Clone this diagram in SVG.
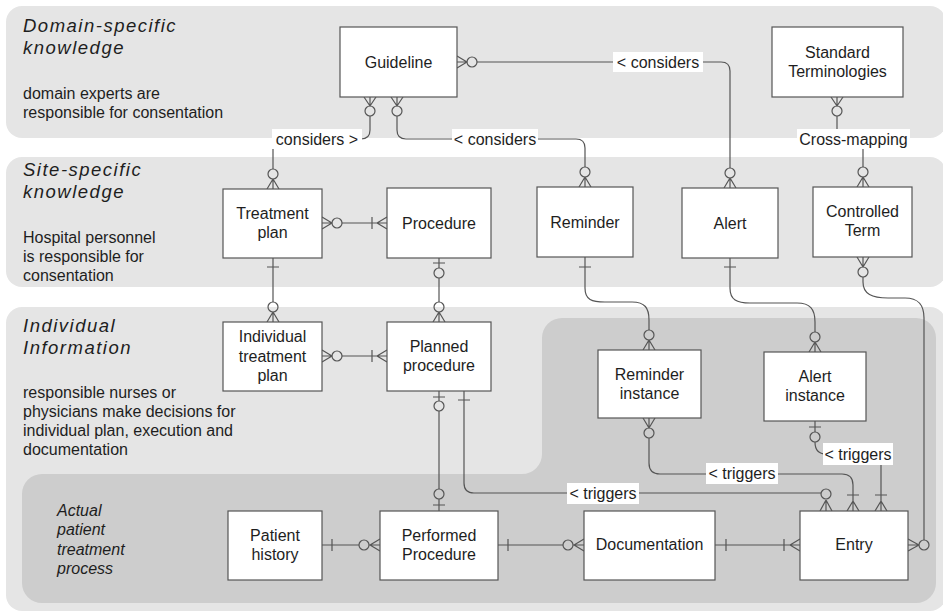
<svg xmlns="http://www.w3.org/2000/svg" width="943" height="614" viewBox="0 0 943 614">
<style>
.band{fill:#e5e5e5}
.dark{fill:#cdcdcd}
.box{fill:#fff;stroke:#555;stroke-width:1.2}
.t{font-family:"Liberation Sans",Arial,sans-serif;font-size:16px;fill:#1e1e1e;text-anchor:middle}
.d{font-family:"Liberation Sans",Arial,sans-serif;font-size:16px;fill:#1e1e1e}
.h{font-family:"Liberation Sans",Arial,sans-serif;font-size:18.5px;font-style:italic;letter-spacing:1.5px;fill:#1e1e1e}
.hi{font-family:"Liberation Sans",Arial,sans-serif;font-size:16px;font-style:italic;fill:#1e1e1e}
.ln{fill:none;stroke:#555;stroke-width:1.2}
.o{fill:none;stroke:#555;stroke-width:1.2}
.lb{fill:#fff}
</style>
<g id="bands">
<rect class="band" x="6" y="6" width="940" height="132" rx="16"/>
<rect class="band" x="6" y="157" width="940" height="130" rx="16"/>
<rect class="band" x="6" y="307" width="940" height="304" rx="16"/>
<path class="dark" d="M562,318 H916 A20,20 0 0 1 936,338 V583 A20,20 0 0 1 916,603 H42 A20,20 0 0 1 22,583 V494 A20,20 0 0 1 42,474 H522 A20,20 0 0 0 542,454 V338 A20,20 0 0 1 562,318 Z"/>
<text class="h" x="23" y="32">Domain-specific</text>
<text class="h" x="23" y="54">knowledge</text>
<text class="d" x="23" y="99">domain experts are</text>
<text class="d" x="23" y="118">responsible for consentation</text>
<text class="h" x="23" y="176">Site-specific</text>
<text class="h" x="23" y="198">knowledge</text>
<text class="d" x="23" y="243">Hospital personnel</text>
<text class="d" x="23" y="262">is responsible for</text>
<text class="d" x="23" y="281">consentation</text>
<text class="h" x="23" y="332">Individual</text>
<text class="h" x="23" y="354">Information</text>
<text class="d" x="23" y="398">responsible nurses or</text>
<text class="d" x="23" y="417">physicians make decisions for</text>
<text class="d" x="23" y="436">individual plan, execution and</text>
<text class="d" x="23" y="455">documentation</text>
<text class="hi" x="57" y="516">Actual</text>
<text class="hi" x="57" y="535">patient</text>
<text class="hi" x="57" y="555">treatment</text>
<text class="hi" x="57" y="574">process</text>
</g>
<g id="connectors">
<!-- Guideline - Alert -->
<path class="ln" d="M457,56 L467,62 M457,62 H467 M457,68 L467,62"/>
<circle class="o" cx="472" cy="62" r="5"/>
<path class="ln" d="M477,62 H721 Q730,62 730,71 V168"/>
<circle class="o" cx="730" cy="173" r="5"/>
<path class="ln" d="M730,178 L724,188 M730,178 V188 M730,178 L736,188"/>
<!-- Guideline - Treatment plan -->
<path class="ln" d="M364,97 L370,106 M370,97 V106 M376,97 L370,106"/>
<circle class="o" cx="370" cy="111" r="5"/>
<path class="ln" d="M370,116 V130 Q370,139 361,139 H282 Q273,139 273,148 V169"/>
<circle class="o" cx="273" cy="174" r="5"/>
<path class="ln" d="M273,179 L267,189 M273,179 V189 M273,179 L279,189"/>
<!-- Guideline - Reminder -->
<path class="ln" d="M391,97 L397,106 M397,97 V106 M403,97 L397,106"/>
<circle class="o" cx="397" cy="111" r="5"/>
<path class="ln" d="M397,116 V130 Q397,139 406,139 H576 Q585,139 585,148 V167"/>
<circle class="o" cx="585" cy="172" r="5"/>
<path class="ln" d="M585,177 L579,187 M585,177 V187 M585,177 L591,187"/>
<!-- Standard Terminologies - Controlled Term -->
<path class="ln" d="M831,97 L837,106 M837,97 V106 M843,97 L837,106"/>
<circle class="o" cx="837" cy="111" r="5"/>
<path class="ln" d="M837,116 V130 Q837,139 846,139 H854 Q863,139 863,148 V167"/>
<circle class="o" cx="863" cy="172" r="5"/>
<path class="ln" d="M863,177 L857,187 M863,177 V187 M863,177 L869,187"/>
<!-- Treatment plan - Procedure -->
<path class="ln" d="M322,217 L332,223 M322,223 H332 M322,229 L332,223"/>
<circle class="o" cx="337" cy="223" r="5"/>
<path class="ln" d="M342,223 H387 M372,217 V229 M377,223 L387,217 M377,223 L387,229"/>
<!-- Procedure - Planned procedure -->
<path class="ln" d="M439,258 V268 M433,263 H445"/>
<circle class="o" cx="439" cy="273" r="5"/>
<path class="ln" d="M439,278 V302"/>
<circle class="o" cx="439" cy="307" r="5"/>
<path class="ln" d="M439,312 L433,322 M439,312 V322 M439,312 L445,322"/>
<!-- Treatment plan - Individual treatment plan -->
<path class="ln" d="M273,258 V302 M267,267 H279"/>
<circle class="o" cx="273" cy="307" r="5"/>
<path class="ln" d="M273,312 L267,322 M273,312 V322 M273,312 L279,322"/>
<!-- Individual treatment plan - Planned procedure -->
<path class="ln" d="M322,350 L332,356 M322,356 H332 M322,362 L332,356"/>
<circle class="o" cx="337" cy="356" r="5"/>
<path class="ln" d="M342,356 H387 M372,350 V362 M377,356 L387,350 M377,356 L387,362"/>
<!-- Planned procedure - Performed Procedure -->
<path class="ln" d="M439,391 V401 M433,397 H445"/>
<circle class="o" cx="439" cy="406" r="5"/>
<path class="ln" d="M439,411 V489"/>
<circle class="o" cx="439" cy="494" r="5"/>
<path class="ln" d="M439,499 V511 M433,505 H445"/>
<!-- Planned procedure - Entry -->
<path class="ln" d="M464,391 V483 Q464,493 474,493 H821 M458,400 H470"/>
<circle class="o" cx="826" cy="494" r="5"/>
<path class="ln" d="M826,500 L820,511 M826,500 V511 M826,500 L832,511"/>
<!-- Reminder - Reminder instance -->
<path class="ln" d="M585,257 V288 C585,300 592,302 605,302 H632 C645,302 649,308 649,320 V330 M579,267 H591"/>
<circle class="o" cx="649" cy="335" r="5"/>
<path class="ln" d="M649,340 L643,350 M649,340 V350 M649,340 L655,350"/>
<!-- Alert - Alert instance -->
<path class="ln" d="M730,258 V288 C730,300 737,303 750,303 H797 C810,303 815,309 815,322 V332 M724,267 H736"/>
<circle class="o" cx="815" cy="337" r="5"/>
<path class="ln" d="M815,342 L809,352 M815,342 V352 M815,342 L821,352"/>
<!-- Controlled Term - Entry -->
<path class="ln" d="M857,257 L863,267 M863,257 V267 M869,257 L863,267"/>
<circle class="o" cx="863" cy="272" r="5"/>
<path class="ln" d="M863,277 V282 C863,294 872,298 888,298 H905 C918,298 924,304 924,318 V540"/>
<circle class="o" cx="924" cy="545" r="5"/>
<path class="ln" d="M908,539 L919,545 M908,545 H919 M908,551 L919,545"/>
<!-- Reminder instance - Entry -->
<path class="ln" d="M643,418 L649,428 M649,418 V428 M655,418 L649,428"/>
<circle class="o" cx="649" cy="433" r="5"/>
<path class="ln" d="M649,438 V463 Q649,474 660,474 H842 Q853,474 853,485 V511 M847,495 H859 M853,501 L847,511 M853,501 L859,511"/>
<!-- Alert instance - Entry -->
<path class="ln" d="M815,421 V432 M809,427 H821"/>
<circle class="o" cx="815" cy="437" r="5"/>
<path class="ln" d="M815,442 Q815,454 826,454 H870 Q881,454 881,465 V511 M875,495 H887 M881,501 L875,511 M881,501 L887,511"/>
<!-- Patient history - Performed Procedure -->
<path class="ln" d="M322,545 H359 M332,539 V551"/>
<circle class="o" cx="364" cy="545" r="5"/>
<path class="ln" d="M369,545 H380 M370,545 L380,539 M370,545 L380,551"/>
<!-- Performed Procedure - Documentation -->
<path class="ln" d="M498,545 H563 M508,539 V551"/>
<circle class="o" cx="568" cy="545" r="5"/>
<path class="ln" d="M573,545 H584 M574,545 L584,539 M574,545 L584,551"/>
<!-- Documentation - Entry -->
<path class="ln" d="M715,545 H800 M726,539 V551 M784,539 V551 M790,545 L800,539 M790,545 L800,551"/>
<!-- labels -->
<rect class="lb" x="613" y="52" width="90" height="20"/>
<text class="t" x="658" y="68">&lt; considers</text>
<rect class="lb" x="272" y="129" width="90" height="20"/>
<text class="t" x="317" y="145">considers &gt;</text>
<rect class="lb" x="452" y="129" width="86" height="20"/>
<text class="t" x="495" y="145">&lt; considers</text>
<rect class="lb" x="797" y="129" width="113" height="20"/>
<text class="t" x="853.5" y="145">Cross-mapping</text>
<rect class="lb" x="567" y="483" width="72" height="21"/>
<text class="t" x="603" y="499">&lt; triggers</text>
<rect class="lb" x="706" y="463" width="72" height="21"/>
<text class="t" x="742" y="479">&lt; triggers</text>
<rect class="lb" x="823" y="443" width="70" height="22"/>
<text class="t" x="858" y="460">&lt; triggers</text>
</g>
<g id="guideline"><rect class="box" x="340" y="27" width="117" height="70"/><text class="t" x="398.5" y="67.5">Guideline</text></g>
<g id="standard-terminologies"><rect class="box" x="772" y="27" width="131" height="70"/><text class="t" x="837.5" y="58">Standard</text><text class="t" x="837.5" y="77">Terminologies</text></g>
<g id="treatment-plan"><rect class="box" x="223" y="189" width="99" height="69"/><text class="t" x="272.5" y="218.5">Treatment</text><text class="t" x="272.5" y="237.5">plan</text></g>
<g id="procedure"><rect class="box" x="387" y="188" width="104" height="70"/><text class="t" x="439" y="228.5">Procedure</text></g>
<g id="reminder"><rect class="box" x="537" y="187" width="96" height="70"/><text class="t" x="585" y="227.5">Reminder</text></g>
<g id="alert"><rect class="box" x="682" y="188" width="96" height="70"/><text class="t" x="730" y="228.5">Alert</text></g>
<g id="controlled-term"><rect class="box" x="813" y="187" width="99" height="70"/><text class="t" x="862.5" y="217">Controlled</text><text class="t" x="862.5" y="236">Term</text></g>
<g id="individual-treatment-plan"><rect class="box" x="223" y="322" width="99" height="69"/><text class="t" x="272.5" y="342">Individual</text><text class="t" x="272.5" y="362">treatment</text><text class="t" x="272.5" y="381">plan</text></g>
<g id="planned-procedure"><rect class="box" x="387" y="322" width="104" height="69"/><text class="t" x="439" y="352">Planned</text><text class="t" x="439" y="371">procedure</text></g>
<g id="reminder-instance"><rect class="box" x="598" y="350" width="103" height="68"/><text class="t" x="649.5" y="380">Reminder</text><text class="t" x="649.5" y="399">instance</text></g>
<g id="alert-instance"><rect class="box" x="764" y="352" width="102" height="69"/><text class="t" x="815" y="382">Alert</text><text class="t" x="815" y="401">instance</text></g>
<g id="patient-history"><rect class="box" x="228" y="511" width="94" height="69"/><text class="t" x="275" y="541">Patient</text><text class="t" x="275" y="560">history</text></g>
<g id="performed-procedure"><rect class="box" x="380" y="511" width="118" height="69"/><text class="t" x="439" y="541">Performed</text><text class="t" x="439" y="560">Procedure</text></g>
<g id="documentation"><rect class="box" x="584" y="511" width="131" height="69"/><text class="t" x="649.5" y="550">Documentation</text></g>
<g id="entry"><rect class="box" x="800" y="511" width="108" height="69"/><text class="t" x="854" y="550">Entry</text></g>
</svg>
